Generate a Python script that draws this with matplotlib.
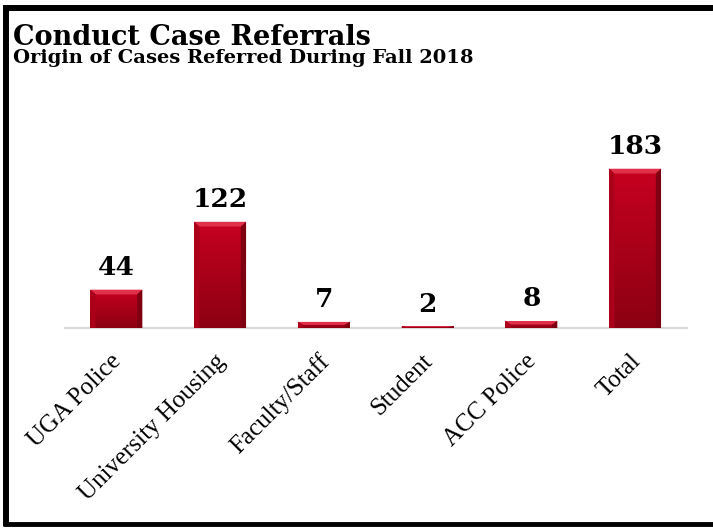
import matplotlib
matplotlib.use('Agg')
import matplotlib.pyplot as plt
import numpy as np
from matplotlib.patches import Polygon
from matplotlib.lines import Line2D
from matplotlib.transforms import ScaledTranslation
from matplotlib.colors import LinearSegmentedColormap

# data
categories = ['UGA Police', 'University Housing', 'Faculty/Staff', 'Student', 'ACC Police', 'Total']
cases = [44, 122, 7, 2, 8, 183]

title = 'Conduct Case Referrals'
subtitle = 'Origin of Cases Referred During Fall 2018'

fig = plt.figure(figsize=(7.13, 5.29), dpi=100)
ax = fig.add_axes([0.0905, 0.380, 0.873, 0.329])

x = np.arange(len(categories))
bars = ax.bar(x, cases, width=0.5, color='#bc001d', zorder=2)

# gradient + bevel on each bar
grad = LinearSegmentedColormap.from_list('bar', ['#8c0013', '#c6001f'])
bev_x = 0.05   # ~5px in x units
bev_y = 5.5    # ~5px in y units
for b in bars:
    x0, w, h = b.get_x(), b.get_width(), b.get_height()
    img = np.linspace(0, 1, 50).reshape(-1, 1)
    im = ax.imshow(img, cmap=grad, origin='lower', aspect='auto',
                   extent=(x0, x0 + w, 0, h), zorder=3)
    im.set_clip_path(b)
    bv = min(bev_y, h * 0.5)
    bx = min(bev_x, w * 0.5)
    top = Polygon([(x0, h), (x0 + w, h), (x0 + w - bx, h - bv), (x0 + bx, h - bv)],
                  closed=True, facecolor='#e0304a', edgecolor='none', zorder=4)
    ax.add_patch(top)
    left = Polygon([(x0, h), (x0 + bx, h - bv), (x0 + bx, 0), (x0, 0)],
                   closed=True, facecolor='#aa0019', edgecolor='none', zorder=4)
    right = Polygon([(x0 + w, h), (x0 + w - bx, h - bv), (x0 + w - bx, 0), (x0 + w, 0)],
                    closed=True, facecolor='#7e0010', edgecolor='none', zorder=4)
    ax.add_patch(left)
    ax.add_patch(right)
    ax.annotate(str(int(h)), (x0 + w / 2, h), xytext=(0, 7), textcoords='offset points',
                ha='center', va='bottom', fontsize=19, fontweight='bold',
                family='DejaVu Serif', color='black')

ax.set_xlim(-0.5, 5.5)
ax.set_ylim(0, 200)
for s in ['top', 'right', 'left']:
    ax.spines[s].set_visible(False)
ax.spines['bottom'].set_color('#d9d9d9')
ax.spines['bottom'].set_linewidth(1.6)
ax.spines['bottom'].set_zorder(1)
ax.set_yticks([])
ax.set_xticks(x)
ax.set_xticklabels(categories, rotation=45, ha='right', va='top', rotation_mode='anchor',
                   fontsize=18, family='Liberation Serif')
ax.tick_params(axis='x', length=0, pad=16)
for lab in ax.get_xticklabels():
    lab.set_transform(lab.get_transform() + ScaledTranslation(-6 / 100, 0, fig.dpi_scale_trans))

fig.text(13 / 713, 1 - 45 / 529, title, fontsize=19.5, fontweight='bold',
         family='DejaVu Serif', va='baseline', ha='left')
fig.text(13 / 713, 1 - 63 / 529, subtitle, fontsize=14, fontweight='bold',
         family='DejaVu Serif', va='baseline', ha='left')

# black frame (top, left, bottom)
fig.add_artist(Line2D([6 / 713, 1], [1 - 8 / 529, 1 - 8 / 529], color='black', lw=4.3,
                      transform=fig.transFigure, solid_capstyle='butt'))
fig.add_artist(Line2D([6 / 713, 6 / 713], [1 - 5 / 529, 1 - 526 / 529], color='black', lw=4.3,
                      transform=fig.transFigure, solid_capstyle='butt'))
fig.add_artist(Line2D([3 / 713, 1], [1 - 524 / 529, 1 - 524 / 529], color='black', lw=3.5,
                      transform=fig.transFigure, solid_capstyle='butt'))

fig.savefig('out.png', dpi=100)
